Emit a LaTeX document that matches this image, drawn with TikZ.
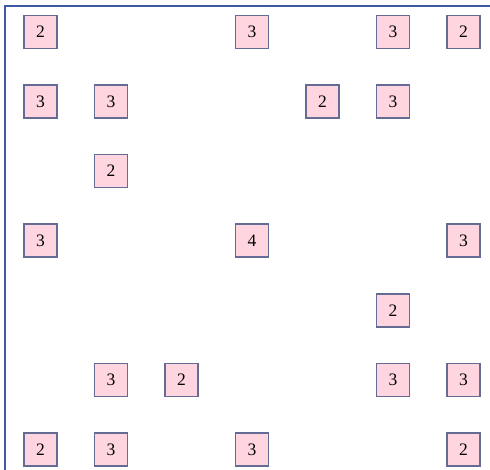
\documentclass[tikz,border=0pt]{standalone}
\usepackage{fontspec}
\setmainfont{Liberation Serif}
\definecolor{boxfill}{RGB}{255,214,224}
\definecolor{boxdraw}{RGB}{100,108,150}
\definecolor{frameblue}{RGB}{60,90,160}
\tikzset{
  cell/.style={draw=boxdraw, fill=boxfill, line width=1.6pt, minimum width=33pt, minimum height=33pt, inner sep=0pt, font=\fontsize{17.5}{17.5}\selectfont},
  frameline/.style={draw=frameblue, line width=1.8pt}
}
\begin{document}
\begin{tikzpicture}[x=1pt,y=-1pt]
\useasboundingbox (0,0) rectangle (490,470);
\coordinate (tl) at (5,6);
\coordinate (tr) at (490,6);
\coordinate (bl) at (5,470);
\draw[frameline] (bl) -- (tl) -- (tr);
% row 0
\node[cell] (r0c0) at ({40.5+70.5*0},{32+69.6*0}) {2};
\node[cell] (r0c3) at ({40.5+70.5*3},{32+69.6*0}) {3};
\node[cell] (r0c5) at ({40.5+70.5*5},{32+69.6*0}) {3};
\node[cell] (r0c6) at ({40.5+70.5*6},{32+69.6*0}) {2};
% row 1
\node[cell] (r1c0) at ({40.5+70.5*0},{32+69.6*1}) {3};
\node[cell] (r1c1) at ({40.5+70.5*1},{32+69.6*1}) {3};
\node[cell] (r1c4) at ({40.5+70.5*4},{32+69.6*1}) {2};
\node[cell] (r1c5) at ({40.5+70.5*5},{32+69.6*1}) {3};
% row 2
\node[cell] (r2c1) at ({40.5+70.5*1},{32+69.6*2}) {2};
% row 3
\node[cell] (r3c0) at ({40.5+70.5*0},{32+69.6*3}) {3};
\node[cell] (r3c3) at ({40.5+70.5*3},{32+69.6*3}) {4};
\node[cell] (r3c6) at ({40.5+70.5*6},{32+69.6*3}) {3};
% row 4
\node[cell] (r4c5) at ({40.5+70.5*5},{32+69.6*4}) {2};
% row 5
\node[cell] (r5c1) at ({40.5+70.5*1},{32+69.6*5}) {3};
\node[cell] (r5c2) at ({40.5+70.5*2},{32+69.6*5}) {2};
\node[cell] (r5c5) at ({40.5+70.5*5},{32+69.6*5}) {3};
\node[cell] (r5c6) at ({40.5+70.5*6},{32+69.6*5}) {3};
% row 6
\node[cell] (r6c0) at ({40.5+70.5*0},{32+69.6*6}) {2};
\node[cell] (r6c1) at ({40.5+70.5*1},{32+69.6*6}) {3};
\node[cell] (r6c3) at ({40.5+70.5*3},{32+69.6*6}) {3};
\node[cell] (r6c6) at ({40.5+70.5*6},{32+69.6*6}) {2};
\end{tikzpicture}
\end{document}
